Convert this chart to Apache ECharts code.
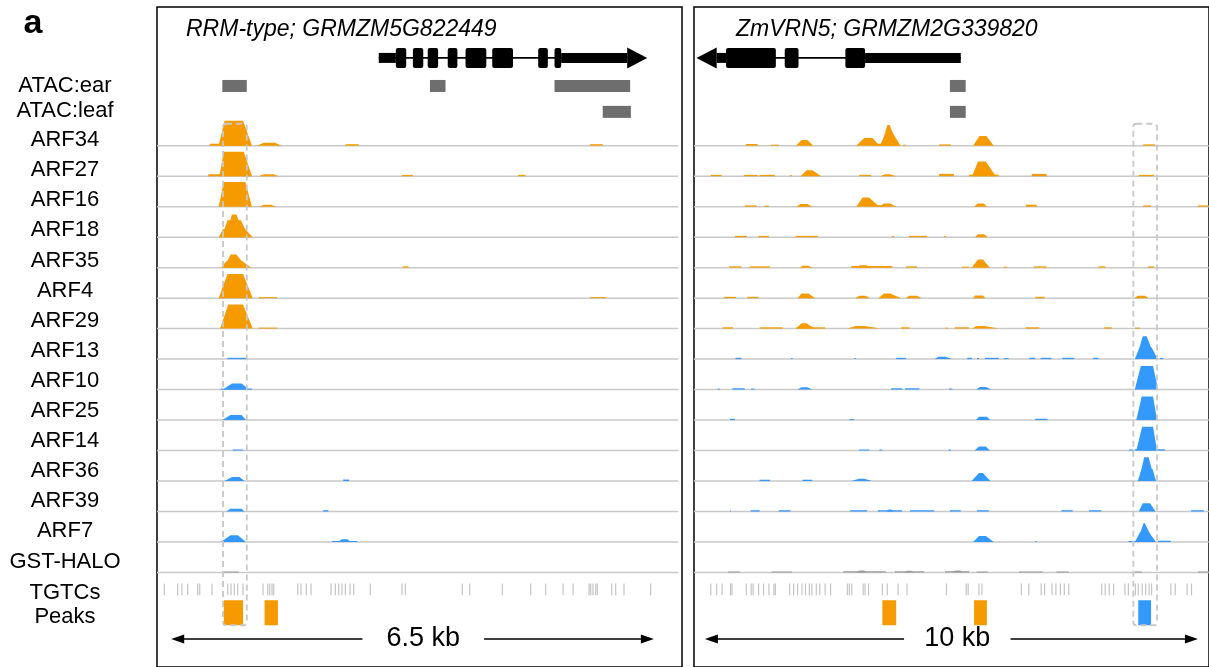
<!DOCTYPE html>
<html>
<head>
<meta charset="utf-8">
<script src="https://cdn.jsdelivr.net/npm/echarts@6/dist/echarts.min.js"></script>
<style>
  html, body { margin: 0; padding: 0; background: #fff; }
  #chart { width: 1209px; height: 667px; }
</style>
</head>
<body>
<div id="chart"></div>
<script>
// ---- data -------------------------------------------------------------
// positions in kb from the left edge of each panel, signal heights in track units (30.6 = one row)
const trackNames = ['ARF34', 'ARF27', 'ARF16', 'ARF18', 'ARF35', 'ARF4', 'ARF29',
  'ARF13', 'ARF10', 'ARF25', 'ARF14', 'ARF36', 'ARF39', 'ARF7', 'GST-HALO']
const trackClade = ['A', 'A', 'A', 'A', 'A', 'A', 'A', 'B', 'B', 'B', 'B', 'B', 'B', 'B', 'ctrl']
const rowLabels = ['ATAC:ear', 'ATAC:leaf', ...trackNames, 'TGTCs', 'Peaks']

const panelTitles = ['RRM-type; GRMZM5G822449', 'ZmVRN5; GRMZM2G339820']
const scaleLabels = ['6.5 kb', '10 kb']

// gene models: [start, end] of each part
const p1Strand = '+'
const p1GeneSpan = [3.00, 6.35]
const p1GeneUtrs = [[3.00, 3.23], [5.46, 6.35]]
const p1GeneExons = [[3.23, 3.37], [3.46, 3.60], [3.66, 3.80], [3.93, 4.06], [4.17, 4.45], [4.53, 4.81], [5.15, 5.28], [5.37, 5.46]]
const p1GeneArrow = [6.35, 6.62]

const p2Strand = '-'
const p2GeneSpan = [0.46, 5.41]
const p2GeneUtrs = [[0.46, 0.65], [3.47, 5.41]]
const p2GeneExons = [[0.65, 1.66], [1.84, 2.12], [3.07, 3.47]]
const p2GeneArrow = [0.46, 0.05]

// ATAC peaks: [start, end]
const p1AtacEar = [[0.89, 1.22], [3.69, 3.90], [5.37, 6.39]]
const p1AtacLeaf = [[6.02, 6.40]]
const p2AtacEar = [[5.19, 5.51]]
const p2AtacLeaf = [[5.19, 5.51]]

// signal features per track: [start, end, height] or [start, topStart, topEnd, end, height]
const p1Signal = [
  [[0.72, 1.28, 2], [0.84, 0.92, 1.17, 1.29, 25], [1.35, 1.45, 1.60, 1.69, 3], [2.55, 2.73, 1.5], [5.85, 6.02, 1.5]],
  [[0.70, 1.28, 2], [0.85, 0.91, 1.18, 1.29, 24.6], [1.38, 1.45, 1.58, 1.65, 2], [3.31, 3.46, 1.3], [4.88, 4.98, 1.3]],
  [[0.84, 0.91, 1.20, 1.29, 24.7], [1.38, 1.45, 1.55, 1.62, 2]],
  [[0.84, 0.90, 1.20, 1.30, 8], [0.88, 0.96, 1.14, 1.25, 17], [0.93, 1.02, 1.08, 1.20, 22.7]],
  [[0.87, 0.95, 1.15, 1.28, 7], [0.92, 1.00, 1.08, 1.22, 13.3], [3.32, 3.40, 1.3]],
  [[0.84, 0.96, 1.17, 1.30, 24.3], [1.38, 1.63, 1], [5.85, 6.07, 1]],
  [[0.86, 0.97, 1.17, 1.30, 24.3], [1.38, 1.63, 1]],
  [[0.96, 1.21, 1.3]],
  [[0.87, 1.29, 1], [0.90, 1.02, 1.15, 1.25, 6]],
  [[0.89, 1.00, 1.15, 1.21, 5]],
  [[1.03, 1.17, 1]],
  [[0.92, 1.02, 1.12, 1.19, 4], [2.52, 2.60, 1.5]],
  [[0.94, 1.00, 1.15, 1.19, 2.7], [2.25, 2.32, 1.3]],
  [[0.87, 1.00, 1.10, 1.21, 6.7], [2.37, 2.71, 1], [2.45, 2.50, 2.58, 2.62, 2.7]],
  [[0.91, 1.11, 1]]
]

const p2Signal = [
  [[1.05, 1.29, 1.7], [1.56, 1.72, 1], [2.07, 2.18, 2.30, 2.42, 5.7], [3.29, 3.45, 3.62, 3.76, 7.7], [3.62, 3.80, 2],
    [3.77, 3.88, 4.04, 4.19, 12], [3.80, 3.92, 3.97, 4.13, 20.7], [4.24, 4.30, 1], [4.97, 5.21, 1.3], [5.66, 5.79, 5.93, 6.08, 9.7], [9.11, 9.35, 1.3]],
  [[0.34, 0.56, 1.3], [1.01, 1.29, 1.3], [1.33, 1.64, 1.3], [1.94, 1.98, 1], [2.16, 2.28, 2.40, 2.58, 6], [3.35, 3.59, 1.3],
    [3.77, 3.88, 3.98, 4.10, 2], [4.97, 5.27, 2.3], [5.58, 6.18, 1.5], [5.64, 5.76, 5.92, 6.12, 14.7], [6.85, 7.15, 2.3], [9.02, 9.33, 1.3]],
  [[1.03, 1.27, 1.3], [1.43, 1.52, 1], [2.07, 2.16, 2.30, 2.40, 2.7], [3.29, 3.42, 3.55, 3.76, 9.3], [3.70, 3.85, 1.5],
    [3.76, 3.85, 3.98, 4.10, 3.3], [5.68, 5.75, 5.88, 5.94, 3.3], [6.73, 6.95, 2], [9.11, 9.27, 1.3], [10.22, 10.44, 1.3]],
  [[0.83, 1.07, 1.3], [1.31, 1.52, 1.3], [2.06, 2.51, 1.3], [4.02, 4.06, 1], [4.36, 4.73, 1.3], [5.07, 5.11, 1],
    [5.70, 5.76, 5.88, 5.96, 3]],
  [[0.71, 0.96, 1.3], [1.13, 1.54, 1.3], [2.14, 2.20, 2.32, 2.40, 2], [3.19, 4.02, 1.7], [3.30, 3.36, 3.50, 3.56, 2.3],
    [4.30, 4.52, 1.3], [5.43, 5.58, 1], [5.63, 5.76, 5.86, 6.00, 8.3], [6.28, 6.35, 1], [6.89, 7.15, 1.3], [8.20, 8.34, 1.3], [9.21, 9.33, 1.3]],
  [[0.61, 0.85, 1.3], [1.08, 1.31, 1.3], [2.10, 2.18, 2.32, 2.46, 4.7], [3.27, 3.35, 3.48, 3.57, 2.3], [3.74, 3.85, 3.98, 4.20, 4.7],
    [4.30, 4.36, 4.52, 4.62, 2.3], [5.66, 5.70, 5.86, 5.91, 2.7], [6.92, 7.11, 1.3], [8.93, 9.00, 9.15, 9.21, 2.3]],
  [[0.58, 0.79, 1.3], [1.33, 1.80, 1.3], [2.07, 2.66, 1.3], [2.07, 2.18, 2.28, 2.45, 5.3], [3.11, 3.28, 3.46, 3.78, 2.7],
    [4.20, 4.37, 1.3], [5.10, 5.14, 1], [5.29, 5.58, 1.3], [5.64, 5.73, 5.88, 6.18, 2.7], [6.73, 7.00, 1.3], [8.32, 8.47, 1.3], [8.94, 9.04, 1]],
  [[0.84, 0.96, 1.3], [1.97, 2.00, 1], [3.25, 3.28, 1], [4.10, 4.30, 1.3], [4.88, 4.96, 5.10, 5.23, 2.3], [5.54, 5.64, 1.3],
    [5.74, 5.78, 1], [5.90, 6.18, 1.3], [6.28, 6.38, 1], [6.80, 6.92, 1.3], [7.03, 7.25, 1.3], [7.47, 7.71, 1.3], [8.09, 8.20, 1.3],
    [8.94, 9.04, 9.28, 9.40, 12], [8.97, 9.10, 9.18, 9.36, 23], [9.45, 9.52, 1]],
  [[0.48, 0.52, 1], [0.78, 1.03, 1.3], [1.16, 1.23, 1], [2.10, 2.18, 2.30, 2.40, 2.3], [4.00, 4.22, 1.3], [4.28, 4.57, 1.3],
    [5.17, 5.24, 1], [5.72, 5.80, 5.92, 6.03, 2.7], [8.94, 9.06, 9.31, 9.41, 23.7]],
  [[0.73, 0.83, 1.3], [3.15, 3.25, 1], [5.72, 5.78, 5.94, 6.01, 3.3], [6.92, 7.17, 1.3], [8.97, 9.08, 9.31, 9.39, 23.7]],
  [[3.35, 3.56, 1], [3.76, 3.82, 1], [5.16, 5.21, 1], [5.69, 5.78, 5.92, 6.00, 4], [8.82, 8.91, 1], [8.94, 9.55, 1.3],
    [8.97, 9.09, 9.31, 9.39, 24]],
  [[1.33, 1.54, 1.3], [2.20, 2.40, 1.3], [3.19, 3.35, 3.45, 3.61, 2.3], [5.63, 5.78, 5.86, 6.01, 8],
    [9.00, 9.08, 9.30, 9.37, 12], [9.02, 9.13, 9.22, 9.35, 24]],
  [[0.73, 0.75, 1], [1.15, 1.33, 1.3], [1.72, 1.96, 1.3], [3.17, 3.51, 1.3], [3.73, 4.22, 1.3], [3.90, 3.95, 4.00, 4.05, 2],
    [4.38, 4.87, 1.3], [5.19, 5.41, 1.3], [5.74, 5.98, 1.3], [7.45, 7.68, 1.3], [8.01, 8.26, 1.3], [9.02, 9.10, 9.25, 9.36, 8.3],
    [10.08, 10.34, 1.3]],
  [[5.66, 5.78, 5.92, 6.08, 6], [6.92, 6.95, 1], [8.81, 9.00, 1], [8.94, 9.05, 9.22, 9.37, 10], [8.98, 9.12, 9.14, 9.33, 19], [9.41, 9.67, 1.3]],
  [[0.69, 0.93, 1], [1.57, 1.99, 1], [3.03, 3.89, 1.2], [3.30, 3.35, 3.45, 3.50, 2], [4.07, 4.67, 1.2], [4.28, 4.32, 4.40, 4.45, 1.8],
    [5.09, 5.58, 1.3], [5.25, 5.30, 5.40, 5.45, 2], [5.73, 5.96, 1], [6.59, 7.07, 1], [7.35, 7.60, 1], [8.94, 9.08, 1], [10.22, 10.44, 1]]
]

// TGTC motif positions
const p1Tgtc = [0.108, 0.288, 0.346, 0.423, 0.558, 0.585, 0.751, 0.963, 1.007, 1.052, 1.097, 1.169, 1.439, 1.502,
  1.529, 1.560, 1.583, 1.907, 1.951, 2.023, 2.086, 2.356, 2.414, 2.460, 2.504, 2.549, 2.612, 2.662, 2.886, 3.313,
  3.358, 4.126, 4.226, 4.666, 5.049, 5.251, 5.485, 5.620, 5.836, 5.858, 5.889, 5.926, 5.947, 6.141, 6.195, 6.307, 6.667]
const p2Tgtc = [0.34, 0.46, 0.57, 0.74, 0.77, 1.06, 1.16, 1.20, 1.31, 1.41, 1.52, 1.62, 1.65, 1.94, 2.02, 2.10, 2.19,
  2.26, 2.34, 2.39, 2.48, 2.55, 2.66, 2.77, 3.11, 3.15, 3.20, 3.43, 3.47, 3.54, 3.82, 3.92, 4.14, 4.32, 5.12, 5.52,
  5.56, 5.78, 5.84, 6.64, 6.79, 7.04, 7.11, 7.26, 7.34, 7.43, 7.51, 7.60, 8.27, 8.34, 8.42, 8.51, 8.74, 8.81, 8.95,
  9.01, 9.09, 9.16, 9.23, 9.28, 9.67, 9.76, 10.00, 10.09]

// called peaks: [start, end], clade of the ARFs that bind
const p1Peaks = [[0.91, 1.17], [1.46, 1.64]]
const p1PeakClade = ['A', 'A']
const p2Peaks = [[3.82, 4.10], [5.68, 5.94], [9.01, 9.27]]
const p2PeakClade = ['A', 'A', 'B']

// highlighted regions and scale bars: [start, end]
const p1Highlight = [[0.90, 1.22]]
const p2Highlight = [[8.91, 9.39]]
const p1Scale = [0.20, 6.71]
const p2Scale = [0.22, 10.22]

// ---- layout -----------------------------------------------------------
const SIGNAL_PER_ROW = 30.6
const Y_MIN = -3.55
const Y_MAX = 18.1
const ROW = {
  gene: -1.88, atacEar: -0.96, atacLeaf: -0.11,
  tgtcTop: 15.36, tgtcBot: 15.75, peakTop: 15.91, peakBot: 16.73,
  boxTop: 0.28, boxBot: 16.73, scale: 17.18
}
const FONT = '"Liberation Sans", Arial, Helvetica, sans-serif'
const cladeColor = { A: '#F59B00', B: '#3399FF', ctrl: '#9b9b9b' }
const labelY = [86, 111, 140, 170, 200, 230, 261, 291, 321, 351, 381, 411, 441, 471, 501, 531, 562, 593, 617]

const panels = [
  { left: 157, width: 525, xMin: 0.009, xMax: 0.009 + 525 / 74.15, lineEnd: 7.04, titleLeft: 181, scaleGap: [2.78, 4.42],
    strand: p1Strand, span: p1GeneSpan, utrs: p1GeneUtrs, exons: p1GeneExons, arrow: p1GeneArrow,
    ear: p1AtacEar, leaf: p1AtacLeaf, signal: p1Signal, tgtc: p1Tgtc, peaks: p1Peaks, peakClade: p1PeakClade,
    highlight: p1Highlight, scale: p1Scale },
  { left: 694, width: 517, xMin: 0, xMax: 517 / 49.5, lineEnd: 10.44, titleLeft: 731, scaleGap: [4.26, 6.42],
    strand: p2Strand, span: p2GeneSpan, utrs: p2GeneUtrs, exons: p2GeneExons, arrow: p2GeneArrow,
    ear: p2AtacEar, leaf: p2AtacLeaf, signal: p2Signal, tgtc: p2Tgtc, peaks: p2Peaks, peakClade: p2PeakClade,
    highlight: p2Highlight, scale: p2Scale }
]

const chart = echarts.init(document.getElementById('chart'))

const series = []
panels.forEach((p, pi) => {
  const base = { type: 'custom', xAxisIndex: pi, yAxisIndex: pi, silent: true, animation: false }

  // track baselines
  series.push({ ...base, z: 1,
    data: trackNames.map((n, i) => [0, i + 1]),
    renderItem: (params, api) => {
      const a = api.coord([p.xMin, api.value(1)])
      const b = api.coord([p.lineEnd, api.value(1)])
      return { type: 'line', shape: { x1: a[0], y1: a[1], x2: b[0], y2: b[1] },
        style: { stroke: '#c9c9c9', lineWidth: 1.5 } }
    }
  })

  // coverage signal
  const sig = []
  p.signal.forEach((feats, t) => feats.forEach(f => {
    const q = f.length === 3 ? [f[0], f[0], f[1], f[1], f[2]] : f
    sig.push([q[0], t, q[1], q[2], q[3], q[4]])
  }))
  series.push({ ...base, z: 2, data: sig, encode: { x: 0, y: 1 },
    renderItem: (params, api) => {
      const t = api.value(1)
      const y0 = t + 1
      const y1 = y0 - api.value(5) / SIGNAL_PER_ROW
      const pts = [
        api.coord([api.value(0), y0]),
        api.coord([api.value(2), y1]),
        api.coord([api.value(3), y1]),
        api.coord([api.value(4), y0])
      ]
      return { type: 'polygon', shape: { points: pts }, style: { fill: cladeColor[trackClade[t]] } }
    }
  })

  // ATAC peaks
  const atac = p.ear.map(r => [r[0], 0, r[1]]).concat(p.leaf.map(r => [r[0], 1, r[1]]))
  series.push({ ...base, z: 2, data: atac, encode: { x: 0, y: 1 },
    renderItem: (params, api) => {
      const row = api.value(1) === 0 ? ROW.atacEar : ROW.atacLeaf
      const a = api.coord([api.value(0), row])
      const b = api.coord([api.value(2), row])
      return { type: 'rect', shape: { x: a[0], y: a[1] - 6, width: b[0] - a[0], height: 12 },
        style: { fill: '#6e6e6e' } }
    }
  })

  // gene model: 0 intron line, 1 UTR, 2 exon, 3 arrow head
  const gene = [[p.span[0], 0, p.span[1]]]
    .concat(p.utrs.map(r => [r[0], 1, r[1]]))
    .concat(p.exons.map(r => [r[0], 2, r[1]]))
    .concat([[p.arrow[0], 3, p.arrow[1]]])
  series.push({ ...base, z: 3, data: gene, encode: { x: 0, y: 1 },
    renderItem: (params, api) => {
      const kind = api.value(1)
      const a = api.coord([api.value(0), ROW.gene])
      const b = api.coord([api.value(2), ROW.gene])
      if (kind === 0) {
        return { type: 'line', shape: { x1: a[0], y1: a[1], x2: b[0], y2: b[1] },
          style: { stroke: '#000', lineWidth: 1.6 } }
      }
      if (kind === 3) {
        return { type: 'polygon', shape: { points: [[a[0], a[1] - 10.5], [b[0], b[1]], [a[0], a[1] + 10.5]] },
          style: { fill: '#000' } }
      }
      const half = kind === 2 ? 10 : 5
      return { type: 'rect',
        shape: { x: Math.min(a[0], b[0]), y: a[1] - half, width: Math.abs(b[0] - a[0]), height: half * 2, r: kind === 2 ? 2 : 0 },
        style: { fill: '#000' } }
    }
  })

  // TGTC motifs
  series.push({ ...base, z: 2, data: p.tgtc.map(x => [x, 0]), encode: { x: 0, y: 1 },
    renderItem: (params, api) => {
      const a = api.coord([api.value(0), ROW.tgtcTop])
      const b = api.coord([api.value(0), ROW.tgtcBot])
      return { type: 'line', shape: { x1: a[0], y1: a[1], x2: b[0], y2: b[1] },
        style: { stroke: '#c4c4c4', lineWidth: 1.2 } }
    }
  })

  // peaks
  series.push({ ...base, z: 2, data: p.peaks.map(r => [r[0], 0, r[1]]), encode: { x: 0, y: 1 },
    renderItem: (params, api) => {
      const a = api.coord([api.value(0), ROW.peakTop])
      const b = api.coord([api.value(2), ROW.peakBot])
      return { type: 'rect', shape: { x: a[0], y: a[1], width: b[0] - a[0], height: b[1] - a[1] },
        style: { fill: cladeColor[p.peakClade[params.dataIndex]] } }
    }
  })

  // highlighted region
  series.push({ ...base, z: 5, data: p.highlight.map(r => [r[0], 0, r[1]]), encode: { x: 0, y: 1 },
    renderItem: (params, api) => {
      const a = api.coord([api.value(0), ROW.boxTop])
      const b = api.coord([api.value(2), ROW.boxBot])
      return { type: 'rect', shape: { x: a[0], y: a[1], width: b[0] - a[0], height: b[1] - a[1], r: 3 },
        style: { fill: null, stroke: '#c8c8c8', lineWidth: 1.8, lineDash: [6, 4] } }
    }
  })

  // scale bar
  series.push({ ...base, z: 3, data: [[p.scale[0], 0, p.scale[1]]], encode: { x: 0, y: 1 },
    renderItem: (params, api) => {
      const a = api.coord([api.value(0), ROW.scale])
      const b = api.coord([api.value(2), ROW.scale])
      const g0 = api.coord([p.scaleGap[0], ROW.scale])
      const g1 = api.coord([p.scaleGap[1], ROW.scale])
      const y = a[1]
      return { type: 'group', children: [
        { type: 'line', shape: { x1: a[0] + 10, y1: y, x2: g0[0], y2: y }, style: { stroke: '#000', lineWidth: 1.6 } },
        { type: 'line', shape: { x1: g1[0], y1: y, x2: b[0] - 10, y2: y }, style: { stroke: '#000', lineWidth: 1.6 } },
        { type: 'polygon', shape: { points: [[a[0], y], [a[0] + 13, y - 4.5], [a[0] + 13, y + 4.5]] }, style: { fill: '#000' } },
        { type: 'polygon', shape: { points: [[b[0], y], [b[0] - 13, y - 4.5], [b[0] - 13, y + 4.5]] }, style: { fill: '#000' } },
        { type: 'text', x: (g0[0] + g1[0]) / 2, y: y,
          style: { text: scaleLabels[pi], fill: '#000', font: '27px ' + FONT, align: 'center', verticalAlign: 'middle' } }
      ] }
    }
  })
})

const option = {
  animation: false,
  title: panels.map((p, i) => ({
    text: panelTitles[i], left: p.titleLeft, top: 13,
    textStyle: { fontSize: 23, fontStyle: 'italic', fontWeight: 'normal', color: '#000', fontFamily: FONT }
  })),
  grid: panels.map(p => ({
    left: p.left, top: 7, width: p.width, height: 662,
    show: true, borderColor: '#000', borderWidth: 1.5, backgroundColor: 'transparent'
  })),
  xAxis: panels.map((p, i) => ({ type: 'value', gridIndex: i, min: p.xMin, max: p.xMax, show: false })),
  yAxis: panels.map((p, i) => ({ type: 'value', gridIndex: i, min: Y_MIN, max: Y_MAX, inverse: true, show: false })),
  graphic: [
    { type: 'text', x: 33, y: 24, style: { text: 'a', fill: '#000', font: 'bold 34px ' + FONT, align: 'center', verticalAlign: 'middle' } }
  ].concat(rowLabels.map((name, i) => ({
    type: 'text', x: 65, y: labelY[i],
    style: { text: name, fill: '#000', font: '22px ' + FONT, align: 'center', verticalAlign: 'middle' }
  }))),
  series: series
}

chart.setOption(option)
</script>
</body>
</html>
